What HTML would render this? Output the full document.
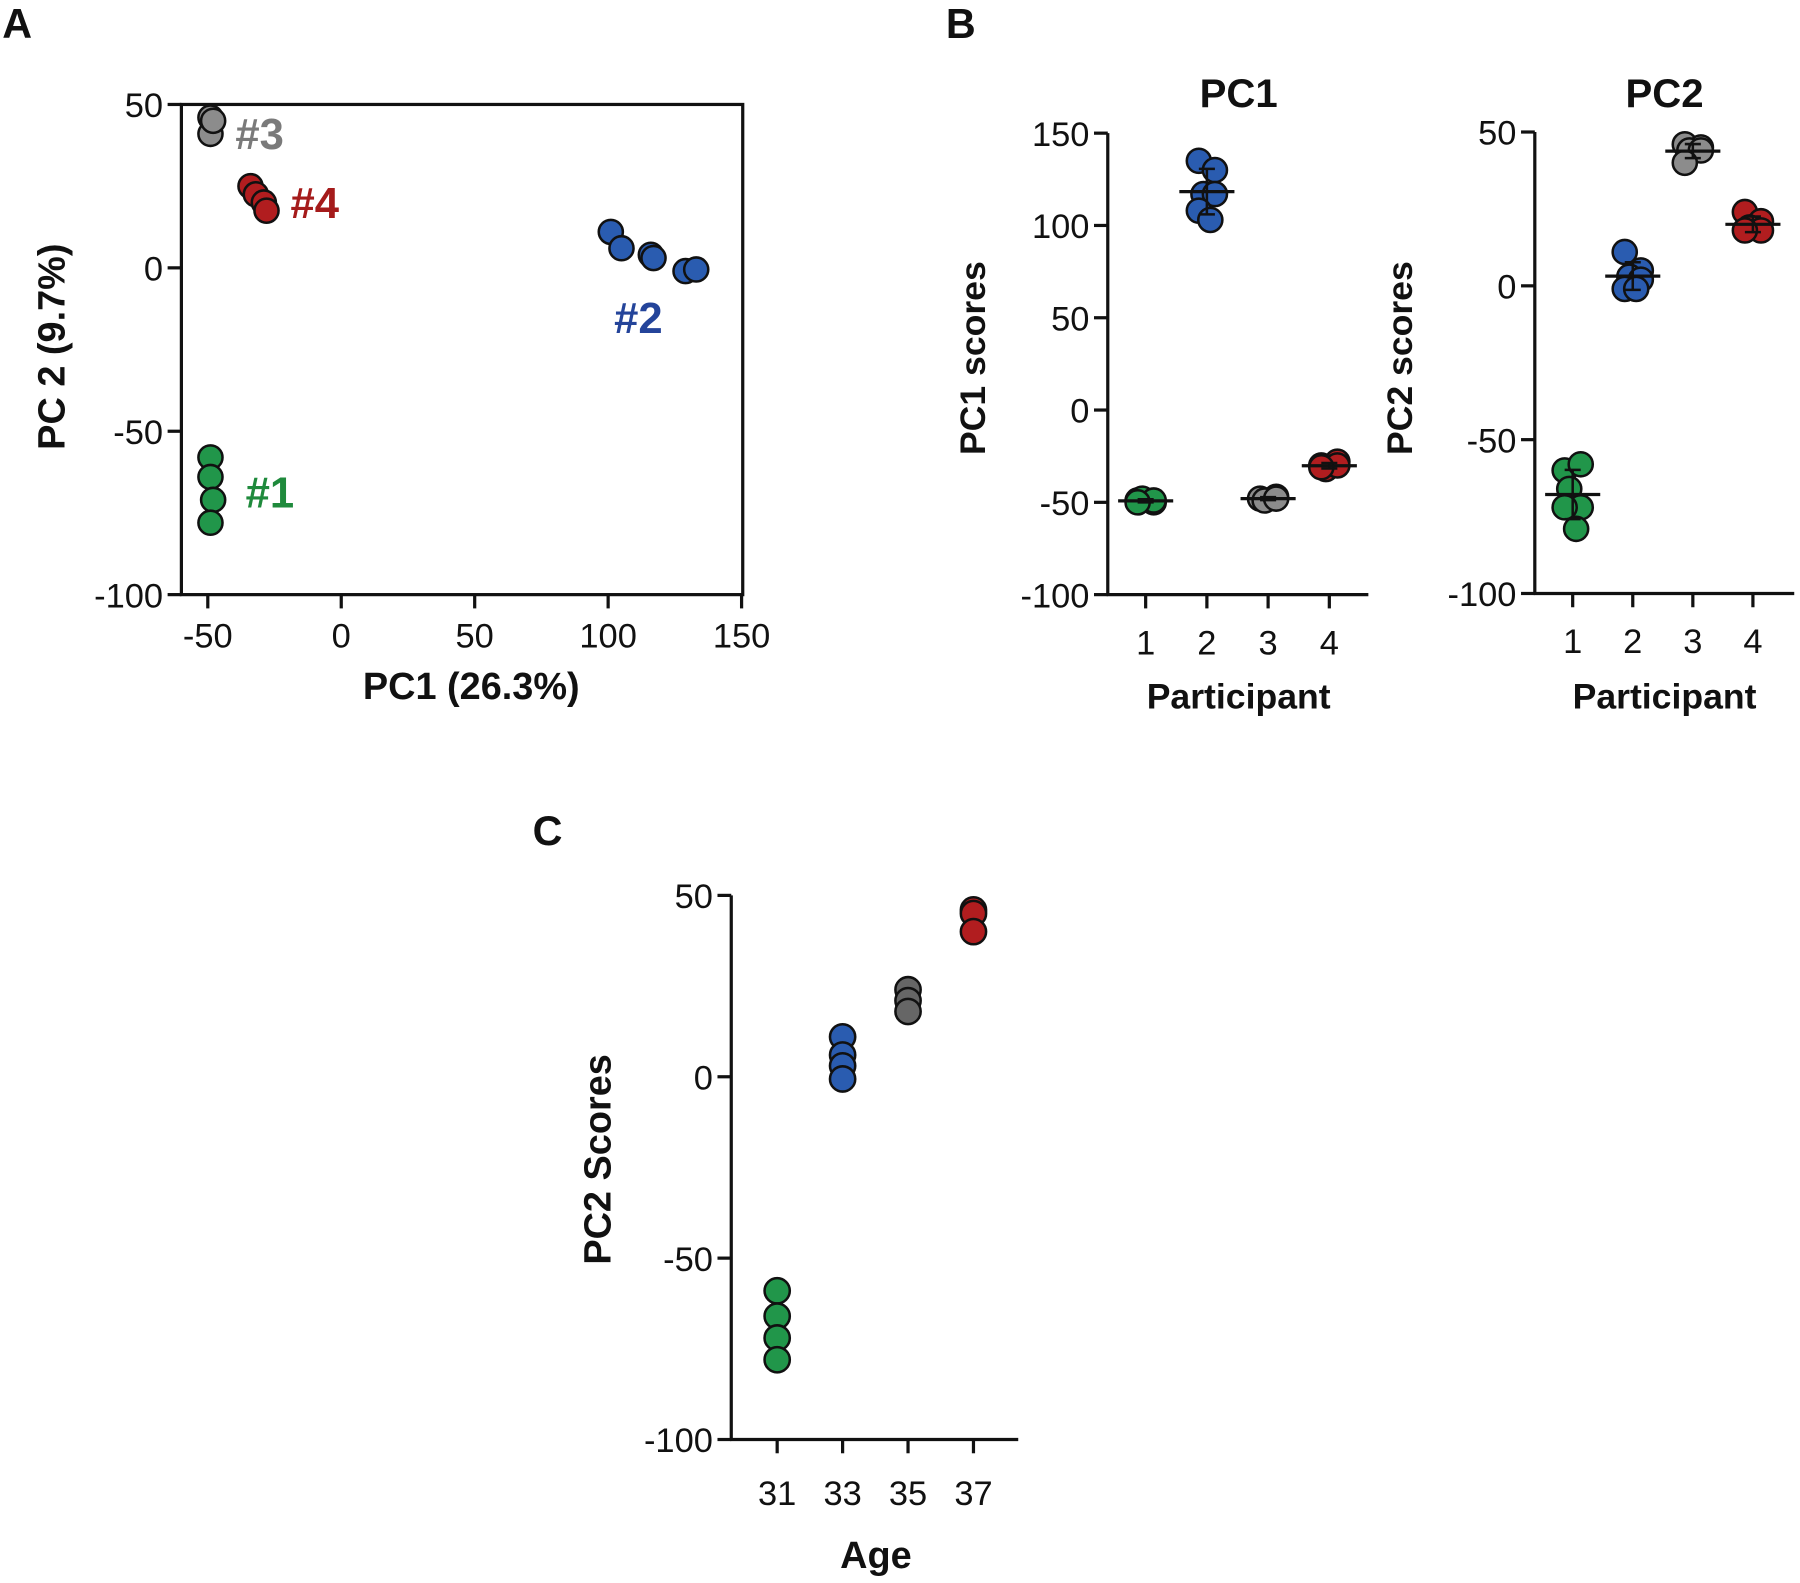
<!DOCTYPE html>
<html><head><meta charset="utf-8"><style>
html,body{margin:0;padding:0;background:#fff}
svg{display:block}
text{font-family:"Liberation Sans",Arial,sans-serif}
</style></head><body>
<svg id="fig" width="1800" height="1583" viewBox="0 0 1568 1379" xmlns="http://www.w3.org/2000/svg">
<text x="2" y="33" font-size="36" font-weight="bold" fill="#111">A</text>
<text x="824" y="33" font-size="36" font-weight="bold" fill="#111">B</text>
<text x="464" y="736" font-size="36" font-weight="bold" fill="#111">C</text>
<g id="gA"></g>
<g id="gB1"></g>
<g id="gB2"></g>
<g id="gC"></g>
</svg>
<script>
// ---- Panel A data ----
const aGroups = ['#1','#2','#3','#4'];
const aX1 = [-49,-49,-48,-49];
const aY1 = [-58,-64,-71,-78];
const aX2 = [101,105,116,117,129,133];
const aY2 = [11,6,4,3,-1,-0.5];
const aX3 = [-49,-49,-48];
const aY3 = [46,41,45];
const aX4 = [-34,-32,-29,-28];
const aY4 = [25,22.5,20,17.5];
const aXTicks = [-50,0,50,100,150];
const aYTicks = [50,0,-50,-100];
// ---- Panel B data ----
const participants = [1,2,3,4];
const pc1P1 = [-49,-50,-48,-49,-50];
const pc1P2 = [135,130,117,117,108,103];
const pc1P3 = [-48,-47,-49,-48];
const pc1P4 = [-30,-28,-32,-30,-31];
const pc1Ticks = [150,100,50,0,-50,-100];
const pc2P1 = [-60,-58,-66,-72,-72,-79];
const pc2P2 = [11,5,3,2,-1,-1];
const pc2P3 = [46,45,44,44,40];
const pc2P4 = [24,21,19,18,18];
const pc2Ticks = [50,0,-50,-100];
// ---- Panel C data ----
const ages = [31,33,35,37];
const cAge31 = [-59,-66,-72,-78];
const cAge33 = [11,6,3,-0.6];
const cAge35 = [24,21,18];
const cAge37 = [46,45,40];
const cYTicks = [50,0,-50,-100];

const NS='http://www.w3.org/2000/svg';
const COLS=['#21964a','#2a5cb0','#8c8c8c','#b11d1f'];
function mk(p,tag,attrs){const e=document.createElementNS(NS,tag);for(const k in attrs)e.setAttribute(k,attrs[k]);p.appendChild(e);return e;}
function line(p,x1,y1,x2,y2,w){return mk(p,'line',{x1,y1,x2,y2,stroke:'#111','stroke-width':w||2.8});}
function txt(p,x,y,s,size,anchor,bold,fill){const t=mk(p,'text',{x,y,'font-size':size,'text-anchor':anchor||'middle'});if(bold)t.setAttribute('font-weight','bold');t.setAttribute('style','fill:'+(fill||'#111'));t.textContent=s;return t;}
function lin(d0,d1,p0,p1){return v=>p0+(v-d0)*(p1-p0)/(d1-d0);}
function dot(p,x,y,c,r){return mk(p,'circle',{cx:x,cy:y,r:r||10.5,fill:c,stroke:'#111','stroke-width':2.2});}
function mean(a){return a.reduce((s,v)=>s+v,0)/a.length;}
function sd(a){const m=mean(a);return Math.sqrt(a.reduce((s,v)=>s+(v-m)*(v-m),0)/(a.length-1));}

// ---- Panel A ----
(function(){
 const g=document.getElementById('gA');
 const X=lin(-50,150,181,646), Y=lin(50,-100,91,518);
 const L=158,R=647,T=91,B=518;
 mk(g,'rect',{x:L,y:T,width:R-L,height:B-T,fill:'none',stroke:'#111','stroke-width':2.8});
 aXTicks.forEach(v=>{line(g,X(v),B,X(v),B+12);const t=txt(g,X(v),B+46,String(v),30);
  });
 aYTicks.forEach(v=>{line(g,L-12,Y(v),L,Y(v));const t=txt(g,L-16,Y(v)+11,String(v),30,'end');
  });
 const xt=txt(g,(L+R)/2+8,609,'PC1 (26.3%)',33,'middle',true);
 
 const yt=txt(g,0,0,'PC 2 (9.7%)',33,'middle',true);yt.setAttribute('transform','translate(56,302) rotate(-90)');
 
 const xs=[aX1,aX2,aX3,aX4], ys=[aY1,aY2,aY3,aY4];
 xs.forEach((arr,i)=>arr.forEach((v,j)=>{const c=dot(g,X(v),Y(ys[i][j]),COLS[i]);
  }));
 const labs=[[214,442,'#1f8a3c'],[535,290,'#24449a'],[205,130,'#7a7a7a'],[253,190,'#a51b1b']];
 labs.forEach((l,i)=>{const t=txt(g,l[0],l[1],aGroups[i],38,'start',true,l[2]);
  });
})();

// ---- Panel B ----
function dotplot(id,title,ytitle,ticks,groups,cats,x0,xEnd,yTop,yBot,catPx,titleX){
 const g=document.getElementById(id);
 const Y=lin(ticks[0],ticks[ticks.length-1],yTop,yBot);
 const X=lin(cats[0],cats[cats.length-1],catPx[0],catPx[1]);
 line(g,x0,yTop,x0,yBot);line(g,x0-1,yBot,xEnd,yBot);
 ticks.forEach(v=>{line(g,x0-12,Y(v),x0,Y(v));const t=txt(g,x0-16,Y(v)+11,String(v),30,'end');
  });
 cats.forEach(c=>{line(g,X(c),yBot,X(c),yBot+12);const t=txt(g,X(c),yBot+52,String(c),30);
  });
 const tt=txt(g,titleX,93,title,35,'middle',true);
 const xt=txt(g,titleX,617,'Participant',31,'middle',true);
 const yt=txt(g,0,0,ytitle,31,'middle',true);yt.setAttribute('transform','translate('+(x0-107)+',312) rotate(-90)');
 
 groups.forEach((arr,i)=>{const cx=X(cats[i]);
  arr.forEach((v,j)=>{const off=(j%2===0?-1:1)*(j%3===2?3:7);
   const c=dot(g,cx+off,Y(v),COLS[i]);});
  const m=mean(arr),s=sd(arr);
  const ml=line(g,cx-24,Y(m),cx+24,Y(m),2.8);
  line(g,cx,Y(m+s),cx,Y(m-s),2.2);line(g,cx-7,Y(m+s),cx+7,Y(m+s),2.2);line(g,cx-7,Y(m-s),cx+7,Y(m-s),2.2);
 });
}
dotplot('gB1','PC1','PC1 scores',pc1Ticks,[pc1P1,pc1P2,pc1P3,pc1P4],participants,965,1192,116,518,[998,1158],1079);
dotplot('gB2','PC2','PC2 scores',pc2Ticks,[pc2P1,pc2P2,pc2P3,pc2P4],participants,1337,1563,115,517,[1370,1527],1450);

// ---- Panel C ----
(function(){
 const g=document.getElementById('gC');
 const Y=lin(50,-100,780,1254), X=lin(31,37,677,848);
 line(g,637,780,637,1254);line(g,636,1254,887,1254);
 cYTicks.forEach(v=>{line(g,625,Y(v),637,Y(v));const t=txt(g,621,Y(v)+11,String(v),30,'end');
  });
 ages.forEach(a=>{line(g,X(a),1254,X(a),1266);const t=txt(g,X(a),1311,String(a),30);
  });
 const xt=txt(g,763,1366,'Age',33,'middle',true);
 const yt=txt(g,0,0,'PC2 Scores',33,'middle',true);yt.setAttribute('transform','translate(532,1010) rotate(-90)');
 
 const cc=['#21964a','#2a5cb0','#666','#b11d1f'];
 [cAge31,cAge33,cAge35,cAge37].forEach((arr,i)=>arr.forEach(v=>{const c=dot(g,X(ages[i]),Y(v),cc[i],11);
  }));
})();
</script>
</body></html>
